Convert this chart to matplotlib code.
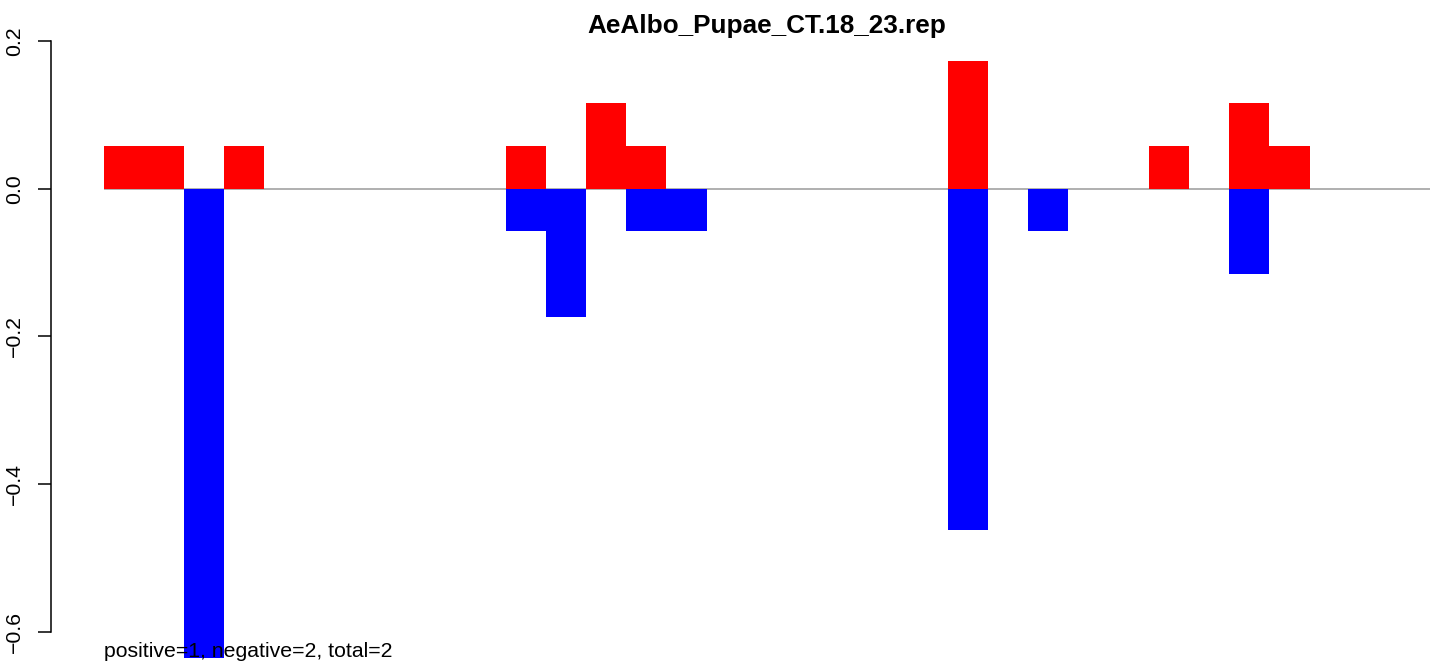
import matplotlib
matplotlib.use("Agg")
import matplotlib.pyplot as plt
import numpy as np

plt.rcParams['font.family'] = ['Liberation Sans', 'DejaVu Sans']

title = "AeAlbo_Pupae_CT.18_23.rep"
footer = "positive=1, negative=2, total=2"
n_bars = 33
pos_idx = [0, 1, 3, 10, 12, 13, 21, 26, 28, 29]
pos_val = [0.0577, 0.0577, 0.0577, 0.0577, 0.1154, 0.0577, 0.1731, 0.0577, 0.1154, 0.0577]
neg_idx = [2, 10, 11, 13, 14, 21, 23, 28]
neg_val = [-0.6347, -0.0577, -0.1731, -0.0577, -0.0577, -0.4616, -0.0577, -0.1154]
yticks = [-0.6, -0.4, -0.2, 0.0, 0.2]
ytick_labels = ["\u22120.6", "\u22120.4", "\u22120.2", "0.0", "0.2"]

W, H = 1439, 664
fig = plt.figure(figsize=(W / 100, H / 100), dpi=100)

# layout in pixels
ax_left, ax_right = 51, 1439
ax_top, ax_bot = 17, 657
ax = fig.add_axes([ax_left / W, 1 - ax_bot / H, (ax_right - ax_left) / W, (ax_bot - ax_top) / H])

y0_px = 188.7
ppu = 738.75
ax.set_ylim(-(ax_bot - y0_px) / ppu, (y0_px - ax_top) / ppu)
bar_w_px = 40.2
first_px = 103.5
ax.set_xlim(-(first_px - ax_left) / bar_w_px, (ax_right - first_px) / bar_w_px)

ax.plot([0, n_bars], [0, 0], color='#9a9a9a', lw=1.1, zorder=1, solid_capstyle='butt')
ax.bar(pos_idx, pos_val, width=1.0, align='edge', color='#FF0000', lw=0, zorder=2, clip_on=False)
ax.bar(neg_idx, neg_val, width=1.0, align='edge', color='#0000FF', lw=0, zorder=2, clip_on=False)

for s in ['top', 'right', 'bottom']:
    ax.spines[s].set_visible(False)
ax.spines['left'].set_bounds(-0.6, 0.2)
ax.spines['left'].set_linewidth(1.1)
ax.set_xticks([])
ax.set_yticks(yticks)
ax.set_yticklabels(ytick_labels, rotation=90, va='center', fontsize=15.3)
ax.tick_params(axis='y', length=9.4, width=1.1, pad=10)
ax.patch.set_alpha(0)

fig.text(767 / W, 1 - 26 / H, title, ha='center', va='center', fontsize=18.8, fontweight='bold')
fig.text(104 / W, 1 - 657 / H, footer, ha='left', va='baseline', fontsize=15.3, zorder=5)

fig.savefig("out.png", dpi=100)
